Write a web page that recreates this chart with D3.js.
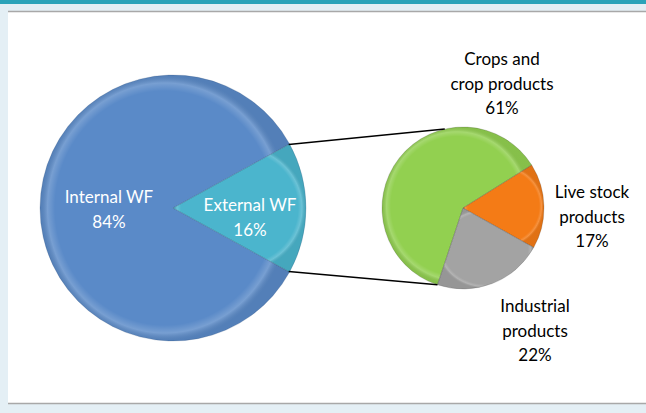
<!DOCTYPE html>
<html><head><meta charset="utf-8">
<script src="https://cdn.jsdelivr.net/npm/d3@7"></script>
<style>
html,body{margin:0;padding:0;background:#e4eff5;}
svg{display:block;}
</style></head>
<body>
<svg id="chart" width="646" height="413"></svg>
<script>
// ---- data ----
const mainCategories = ["Internal WF", "External WF"];
const mainValues = [84, 16];
const mainColors = ["#5a8ac8", "#4bb5cd"];

const subCategories = [["Crops and", "crop products"], ["Live stock", "products"], ["Industrial", "products"]];
const subValues = [61, 17, 22];
const subColors = ["#92d050", "#f47b16", "#a3a3a3"];

const svg = d3.select("#chart");
const W = 646, H = 413;
const deg = Math.PI / 180;

// frame
svg.append("rect").attr("x", 0).attr("y", 0).attr("width", W).attr("height", H).attr("fill", "#e4eff5");
svg.append("rect").attr("x", 0).attr("y", 0).attr("width", W).attr("height", 4).attr("fill", "#2ba3b9");
svg.append("rect").attr("x", 8).attr("y", 11).attr("width", W - 8).attr("height", 393).attr("fill", "#ffffff");
svg.append("line").attr("x1", 8).attr("x2", W).attr("y1", 11.5).attr("y2", 11.5).attr("stroke", "#a8a8a8").attr("stroke-width", 1.5);
svg.append("line").attr("x1", 8).attr("x2", W).attr("y1", 403.5).attr("y2", 403.5).attr("stroke", "#a8a8a8").attr("stroke-width", 1.5);

const defs = svg.append("defs");
function bevel(id) {
  const g = defs.append("radialGradient").attr("id", id).attr("cx", "50%").attr("cy", "50%").attr("r", "50%");
  g.append("stop").attr("offset", "0%").attr("stop-color", "#fff").attr("stop-opacity", 0);
  g.append("stop").attr("offset", "88%").attr("stop-color", "#fff").attr("stop-opacity", 0);
  g.append("stop").attr("offset", "94%").attr("stop-color", "#fff").attr("stop-opacity", 0.18);
  g.append("stop").attr("offset", "100%").attr("stop-color", "#000").attr("stop-opacity", 0.08);
}
bevel("bevelMain");
bevel("bevelSub");

// ---- main pie ----
const mc = { x: 173, y: 208 }, mr = 133;
const extSpan = mainValues[1] / d3.sum(mainValues) * 360;
const mainStart = (90 + extSpan / 2) * deg;
const mainPie = d3.pie().sort(null).startAngle(mainStart).endAngle(mainStart + 2 * Math.PI)(mainValues);
const mainArc = d3.arc().innerRadius(0).outerRadius(mr);
const gm = svg.append("g").attr("transform", `translate(${mc.x},${mc.y})`);
gm.selectAll("path.s").data(mainPie).join("path").attr("class", "s")
  .attr("d", mainArc).attr("fill", (d, i) => mainColors[i]);
gm.selectAll("path.b").data(mainPie).join("path").attr("class", "b")
  .attr("d", mainArc).attr("fill", "url(#bevelMain)")
  .attr("stroke", "rgba(40,70,110,0.25)").attr("stroke-width", 0.8);

// ---- sub pie ----
const sc = { x: 463, y: 208 }, sr = 81;
const orangeTop = 58; // degrees, d3 convention
const subStart = (orangeTop - subValues[0] / d3.sum(subValues) * 360) * deg;
const subPie = d3.pie().sort(null).startAngle(subStart).endAngle(subStart + 2 * Math.PI)(subValues);
const subArc = d3.arc().innerRadius(0).outerRadius(sr);
const gs = svg.append("g").attr("transform", `translate(${sc.x},${sc.y})`);
gs.selectAll("path.s").data(subPie).join("path").attr("class", "s")
  .attr("d", subArc).attr("fill", (d, i) => subColors[i]);
gs.selectAll("path.b").data(subPie).join("path").attr("class", "b")
  .attr("d", subArc).attr("fill", "url(#bevelSub)")
  .attr("stroke", "rgba(60,60,60,0.25)").attr("stroke-width", 0.8);

// ---- connector lines ----
const ext = mainPie[1];
function pt(c, r, a) { return [c.x + r * Math.sin(a), c.y - r * Math.cos(a)]; }
const p1 = pt(mc, mr - 1, ext.startAngle);
const p2 = pt(mc, mr - 1, ext.endAngle);
const q1 = pt(sc, sr, -13 * deg);
const q2 = pt(sc, sr, subPie[2].endAngle);
svg.append("line").attr("x1", p1[0]).attr("y1", p1[1]).attr("x2", q1[0]).attr("y2", q1[1])
  .attr("stroke", "#000").attr("stroke-width", 1.5);
svg.append("line").attr("x1", p2[0]).attr("y1", p2[1]).attr("x2", q2[0]).attr("y2", q2[1])
  .attr("stroke", "#000").attr("stroke-width", 1.5);

// ---- labels ----
const font = "Lato, 'Open Sans', sans-serif";
function label(x, y, lines, color) {
  const t = svg.append("text").attr("x", x).attr("y", y).attr("text-anchor", "middle")
    .attr("font-family", font).attr("font-size", 17).attr("fill", color);
  lines.forEach((s, i) => t.append("tspan").attr("x", x).attr("dy", i === 0 ? 0 : 24.5).text(s));
}
const mainPct = mainValues.map(v => v + "%");
const subPct = subValues.map(v => v + "%");
label(109, 203, [mainCategories[0], mainPct[0]], "#ffffff");
label(250, 211, [mainCategories[1], mainPct[1]], "#ffffff");
label(502, 65, [...subCategories[0], subPct[0]], "#000000");
label(592, 198, [...subCategories[1], subPct[1]], "#000000");
label(535, 312, [...subCategories[2], subPct[2]], "#000000");
</script>
</body></html>
